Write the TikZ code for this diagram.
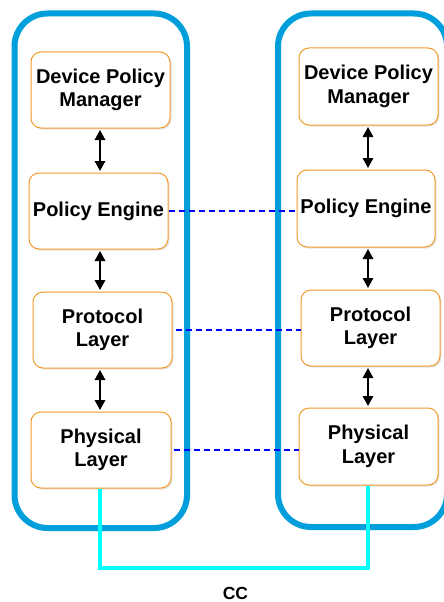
\documentclass[tikz,border=0pt]{standalone}
\usepackage{fontspec}
\setmainfont{Liberation Sans}
\usetikzlibrary{arrows.meta,shadows}
\definecolor{contblue}{RGB}{0,158,219}
\definecolor{boxorange}{RGB}{242,154,40}
\definecolor{ccyan}{RGB}{0,255,255}
\begin{document}
\begin{tikzpicture}[x=1pt,y=-1pt,
  container/.style={draw=contblue,line width=6pt,rounded corners=33pt},
  layerbox/.style={draw=boxorange,line width=1pt,fill=white,rounded corners=10pt,
    minimum width=139pt,minimum height=76pt,align=center,inner sep=0pt,
    font=\fontsize{20}{23.5}\selectfont\bfseries,
    drop shadow={shadow xshift=1.5pt,shadow yshift=-1.5pt,opacity=0.2}},
  dbl/.style={line width=1.6pt,{Triangle[length=10pt,width=10.5pt]}-{Triangle[length=10pt,width=10.5pt]},shorten >=1.5pt,shorten <=1.5pt},
  peer/.style={draw=blue,line width=1.2pt,dash pattern=on 6pt off 4pt},
  ccline/.style={draw=ccyan,line width=4pt}]
\useasboundingbox (0,0) rectangle (444,602);
\fill[white] (0,0) rectangle (444,602);
% containers
\draw[container] (14.5,13.5) rectangle (187,528);
\draw[container] (278,13.5) rectangle (447,527);
% left stack
\node[layerbox] (lDPM) at (100.5,90) {Device Policy\\Manager};
\node[layerbox] (lPE) at (98.5,211) {Policy Engine};
\node[layerbox] (lPL) at (102.5,330) {Protocol\\Layer};
\node[layerbox,minimum width=140pt] (lPH) at (101,450) {Physical\\Layer};
% right stack
\node[layerbox,minimum height=77pt] (rDPM) at (368.5,86.5) {Device Policy\\Manager};
\node[layerbox,minimum width=138pt,minimum height=77pt] (rPE) at (366,208.5) {Policy Engine};
\node[layerbox] (rPL) at (370.5,328) {Protocol\\Layer};
\node[layerbox,minimum height=77pt] (rPH) at (368.5,446.5) {Physical\\Layer};
% vertical arrows
\coordinate (la) at (100,0);
\coordinate (ra) at (368,0);
\draw[dbl] (lDPM.south -| la) -- (lPE.north -| la);
\draw[dbl] (lPE.south -| la) -- (lPL.north -| la);
\draw[dbl] (lPL.south -| la) -- (lPH.north -| la);
\draw[dbl] (rDPM.south -| ra) -- (rPE.north -| ra);
\draw[dbl] (rPE.south -| ra) -- (rPL.north -| ra);
\draw[dbl] (rPL.south -| ra) -- (rPH.north -| ra);
% peer dashed lines
\draw[peer] (lPE.east) -- (lPE.east -| rPE.west);
\draw[peer] ([xshift=3pt]lPL.east) -- (lPL.east -| rPL.west);
\draw[peer] ([xshift=2pt]lPH.east) -- (lPH.east -| rPH.west);
% CC wire
\coordinate (ccl) at (100,568);
\coordinate (ccr) at (368,568);
\draw[ccline] (lPH.south -| ccl) -- (ccl) -- (ccr) -- (rPH.south -| ccr);
\node[font=\fontsize{17.5}{20}\selectfont\bfseries] (cc) at (235.5,593) {CC};
\end{tikzpicture}
\end{document}
